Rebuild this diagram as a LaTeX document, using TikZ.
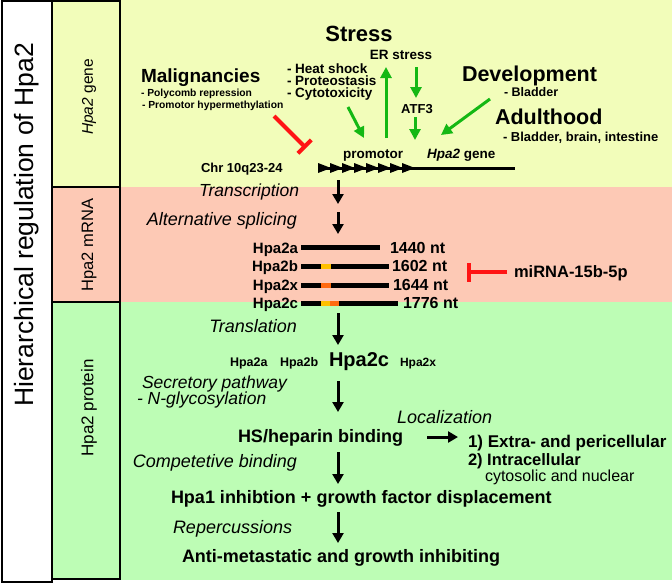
\documentclass[tikz,border=0pt]{standalone}
\usepackage{fontspec}
\setmainfont{Liberation Sans}
\usetikzlibrary{arrows.meta}
\definecolor{bgY}{HTML}{F2FDBA}
\definecolor{bgR}{HTML}{FDC9B5}
\definecolor{bgG}{HTML}{BDFDB5}
\definecolor{grn}{HTML}{14B814}
\definecolor{rd}{HTML}{FF1414}
\definecolor{yel}{HTML}{FFC000}
\definecolor{org}{HTML}{FF6A10}
\newcommand{\fsz}[1]{\fontsize{#1}{#1}\selectfont}
\begin{document}
\begin{tikzpicture}[x=1pt,y=-1pt,
  t/.style={inner sep=0pt,outer sep=0pt},
  bt/.style={t,font=\bfseries},
  garr/.style={grn,line width=3pt,-{Triangle[length=11pt,width=11pt]}},
  barr/.style={black,line width=3pt,-{Triangle[length=10pt,width=11pt]}},
  inh/.style={rd,line width=4pt,-{Bar[width=19pt]}},
  rna/.style={line width=5pt,line cap=butt}]
\useasboundingbox (0,0) rectangle (672,584);
% backgrounds
\fill[bgY] (120,0) rectangle (672,187);
\fill[bgR] (120,187) rectangle (672,302);
\fill[bgG] (120,302) rectangle (672,580);
\draw[line width=1.2pt,fill=white] (2,1) rectangle (52,582);
\draw[line width=1.2pt,fill=bgY] (52,1) rectangle (120,187);
\draw[line width=1.2pt,fill=bgR] (52,187) rectangle (120,302);
\draw[line width=1.2pt,fill=bgG] (52,302) rectangle (120,579);
% side labels
\node[t,rotate=90] (title) at (27,225) {\fsz{26.5}Hierarchical regulation of Hpa2};
\node[t,rotate=90] (lgene) at (89,97) {\fsz{15.5}\textit{Hpa2} gene};
\node[t,rotate=90] (lmrna) at (89,245) {\fsz{16.5}Hpa2 mRNA};
\node[t,rotate=90] (lprot) at (89,408) {\fsz{17}Hpa2 protein};
% gene region texts
\node[bt,anchor=base] (stress) at (359,41) {\fsz{22}Stress};
\node[bt,anchor=base] (er) at (401,59) {\fsz{13.5}ER stress};
\node[bt,anchor=base west] (hs1) at (287,73) {\fsz{13.5}- Heat shock};
\node[bt,anchor=base west] (hs2) at (287,85) {\fsz{13.5}- Proteostasis};
\node[bt,anchor=base west] (hs3) at (287,97) {\fsz{13.5}- Cytotoxicity};
\node[bt,anchor=base west] (mal) at (141,82) {\fsz{19}Malignancies};
\node[bt,anchor=base west] (mal1) at (141,96) {\fsz{10.3}- Polycomb repression};
\node[bt,anchor=base west] (mal2) at (142,108) {\fsz{10.3}- Promotor hypermethylation};
\node[bt,anchor=base west] (dev) at (462,81) {\fsz{21.5}Development};
\node[bt,anchor=base west] (dev1) at (504,96) {\fsz{12.5}- Bladder};
\node[bt,anchor=base west] (adu) at (495,124) {\fsz{21.5}Adulthood};
\node[bt,anchor=base west] (adu1) at (503,141) {\fsz{13}- Bladder, brain, intestine};
\node[bt,anchor=base] (atf) at (417,113) {\fsz{13}ATF3};
\node[bt,anchor=base] (prom) at (373,158) {\fsz{13.5}promotor};
\node[bt,anchor=base west] (genel) at (427,158) {\fsz{13.5}\textit{Hpa2} gene};
\node[bt,anchor=base west] (chr) at (201,172) {\fsz{13}Chr 10q23-24};
\node[t,anchor=base east] (transc) at (299,196) {\fsz{17.5}\itshape Transcription};
% gene line with promotor triangles
\coordinate (g0) at (318,168);
\coordinate (g1) at (515,168);
\draw[line width=3pt] (g0) -- (g1);
\foreach \i in {0,...,7} {
  \fill (318+\i*12,163) -- (331+\i*12,168) -- (318+\i*12,173) -- cycle;
}
% green arrows
\coordinate (erA) at (386,138); \coordinate (erB) at (386,67);
\draw[garr] (erA) -- (erB);
\coordinate (atA) at (416,67); \coordinate (atB) at (416,98);
\draw[garr] (atA) -- (atB);
\coordinate (at2A) at (415,117); \coordinate (at2B) at (415,140);
\draw[garr] (at2A) -- (at2B);
\coordinate (hsA) at (348,107); \coordinate (hsB) at (364,138);
\draw[garr] (hsA) -- (hsB);
\coordinate (dvA) at (490,99); \coordinate (dvB) at (441,135);
\draw[garr] (dvA) -- (dvB);
% red inhibition
\coordinate (mA) at (274,116); \coordinate (mB) at (306,148);
\draw[inh] (mA) -- (mB);
% mRNA region
\coordinate (a1) at (338,180); \coordinate (a2) at (338,204);
\draw[barr] (a1) -- (a2);
\node[t,anchor=base east] (alt) at (297,225) {\fsz{18}\itshape Alternative splicing};
\coordinate (a3) at (338,212); \coordinate (a4) at (338,234);
\draw[barr] (a3) -- (a4);
\node[bt,anchor=base east] (ra) at (298,253) {\fsz{15}Hpa2a};
\node[bt,anchor=base east] (rb) at (298,271) {\fsz{15}Hpa2b};
\node[bt,anchor=base east] (rx) at (298,290) {\fsz{15}Hpa2x};
\node[bt,anchor=base east] (rc) at (298,308) {\fsz{15}Hpa2c};
\draw[rna] (301,247) -- (380,247);
\draw[rna] (301,266) -- (389,266);
\draw[rna] (301,285) -- (389,285);
\draw[rna] (301,303) -- (398,303);
\draw[rna,yel] (321,266) -- (331,266);
\draw[rna,org] (321,285) -- (331,285);
\draw[rna,yel] (321,303) -- (330,303);
\draw[rna,org] (330,303) -- (339,303);
\node[bt,anchor=base west] (na) at (390,253) {\fsz{16}1440 nt};
\node[bt,anchor=base west] (nb) at (392,271) {\fsz{16}1602 nt};
\node[bt,anchor=base west] (nx) at (393,290) {\fsz{16}1644 nt};
\node[bt,anchor=base west] (nc) at (403,308) {\fsz{16}1776 nt};
\node[bt,anchor=base west] (mir) at (514,277) {\fsz{16.5}miRNA-15b-5p};
\coordinate (miA) at (507,272); \coordinate (miB) at (467,272);
\draw[inh] (miA) -- (miB);
\node[t,anchor=base east] (transl) at (297,332) {\fsz{18}\itshape Translation};
\coordinate (a5) at (338,313); \coordinate (a6) at (338,345);
\draw[barr] (a5) -- (a6);
% protein region
\node[bt,anchor=base west] (pa) at (230,366) {\fsz{12.5}Hpa2a};
\node[bt,anchor=base west] (pb) at (280,366) {\fsz{12.5}Hpa2b};
\node[bt,anchor=base west] (pc) at (329,366) {\fsz{20}Hpa2c};
\node[bt,anchor=base west] (px) at (400,366) {\fsz{12}Hpa2x};
\node[t,anchor=base west] (sec) at (142,388) {\fsz{17.5}\itshape Secretory pathway};
\node[t,anchor=base west] (ngl) at (137,404) {\fsz{17.5}\itshape - N-glycosylation};
\coordinate (a7) at (338,381); \coordinate (a8) at (338,412);
\draw[barr] (a7) -- (a8);
\node[bt,anchor=base west] (hs) at (238,442) {\fsz{18}HS/heparin binding};
\node[t,anchor=base west] (loc) at (397,423) {\fsz{18}\itshape Localization};
\coordinate (r1) at (427,437); \coordinate (r2) at (458,437);
\draw[barr] (r1) -- (r2);
\node[bt,anchor=base west] (ex) at (468,447) {\fsz{17}1) Extra- and pericellular};
\node[bt,anchor=base west] (in) at (468,465) {\fsz{16.5}2) Intracellular};
\node[t,anchor=base west] (cyt) at (485,481) {\fsz{16}cytosolic and nuclear};
\node[t,anchor=base east] (comp) at (297,467) {\fsz{18}\itshape Competetive binding};
\coordinate (a9) at (338,452); \coordinate (a10) at (338,484);
\draw[barr] (a9) -- (a10);
\node[bt,anchor=base west] (hpa1) at (171,503) {\fsz{18}Hpa1 inhibtion + growth factor displacement};
\node[t,anchor=base west] (rep) at (173,533) {\fsz{18}\itshape Repercussions};
\coordinate (a11) at (338,512); \coordinate (a12) at (338,543);
\draw[barr] (a11) -- (a12);
\node[bt,anchor=base west] (anti) at (182,562) {\fsz{18}Anti-metastatic and growth inhibiting};
\end{tikzpicture}
\end{document}
